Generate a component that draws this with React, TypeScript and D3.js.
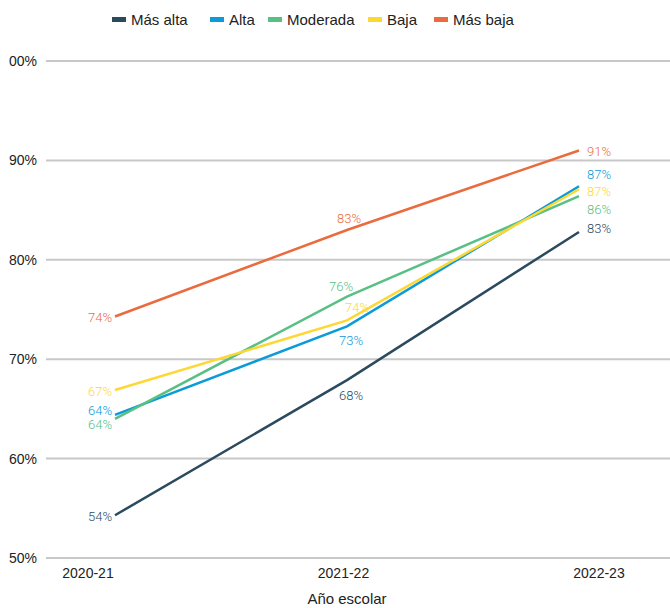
import * as d3 from "d3";

const years = ["2020-21", "2021-22", "2022-23"];
const seriesNames = ["Más alta", "Alta", "Moderada", "Baja", "Más baja"];
const masAlta = [54.3, 67.9, 82.8];
const alta = [64.4, 73.3, 87.4];
const moderada = [64.0, 76.3, 86.4];
const baja = [66.9, 73.9, 87.1];
const masBaja = [74.3, 83.0, 91.0];
const yTicks = [50, 60, 70, 80, 90, 100];

const width = 670;
const height = 608;
const colors = ["#2c4a5e", "#0b9bd8", "#59c084", "#fdd835", "#ea6b3d"];
const legendX = [112, 210, 268, 368, 434];

// label offsets per series, per point: [dx, dy, anchor]
const labelPlace: [number, number, string][][] = [
  [[-3, 1, "end"], [4, 15, "middle"], [8, -4, "start"]],
  [[-3, -4, "end"], [4, 14, "middle"], [8, -12, "start"]],
  [[-3, 6, "end"], [-6, -10, "middle"], [8, 13, "start"]],
  [[-3, 1, "end"], [10, -13, "middle"], [8, 2, "start"]],
  [[-3, 1, "end"], [2, -12, "middle"], [8, 1, "start"]],
];

export default function App() {
  const values = [masAlta, alta, moderada, baja, masBaja];
  const x = d3.scalePoint<string>().domain(years).range([115, 579]);
  const xLabel = d3.scalePoint<string>().domain(years).range([88, 599]);
  const y = d3.scaleLinear().domain([50, 100]).range([558, 61]);
  const line = d3
    .line<number>()
    .x((_, i) => x(years[i]) as number)
    .y((d) => y(d));

  return (
    <svg
      width={width}
      height={height}
      style={{ position: "absolute", left: 0, top: 0, background: "#fff" }}
    >
      <defs>
        <clipPath id="yclip">
          <rect x={9} y={0} width={60} height={height} />
        </clipPath>
      </defs>
      <g fontFamily="'Liberation Sans', Arial, sans-serif" fontSize={14} fill="#222">
        {yTicks.map((t) => (
          <g key={t}>
            <line x1={46} x2={width} y1={y(t)} y2={y(t)} stroke="#c8c8c8" strokeWidth={2} />
            <text x={37} y={y(t)} dy="0.35em" textAnchor="end" clipPath="url(#yclip)">
              {t}%
            </text>
          </g>
        ))}
        {years.map((yr) => (
          <text key={yr} x={xLabel(yr)} y={578} textAnchor="middle">
            {yr}
          </text>
        ))}
        <text x={347} y={604} textAnchor="middle" fontSize={15}>Año escolar</text>
      </g>

      <g fontFamily="'Liberation Sans', Arial, sans-serif" fontSize={15} fill="#222">
        {seriesNames.map((name, i) => (
          <g key={name}>
            <rect x={legendX[i]} y={17} width={14} height={5} fill={colors[i]} />
            <text x={legendX[i] + 19} y={19.5} dy="0.35em">{name}</text>
          </g>
        ))}
      </g>

      {values.map((vals, i) => (
        <path key={i} d={line(vals) ?? ""} fill="none" stroke={colors[i]} strokeWidth={2.5} />
      ))}

      <g fontFamily="Roboto, 'Noto Sans', sans-serif" fontSize={13} fontWeight={300}>
        {values.map((vals, i) =>
          vals.map((v, j) => {
            const [dx, dy, anchor] = labelPlace[i][j];
            return (
              <text
                key={`${i}-${j}`}
                x={(x(years[j]) as number) + dx}
                y={y(v) + dy}
                dy="0.35em"
                textAnchor={anchor}
                fill={colors[i]}
              >
                {Math.round(v)}%
              </text>
            );
          })
        )}
      </g>
    </svg>
  );
}
